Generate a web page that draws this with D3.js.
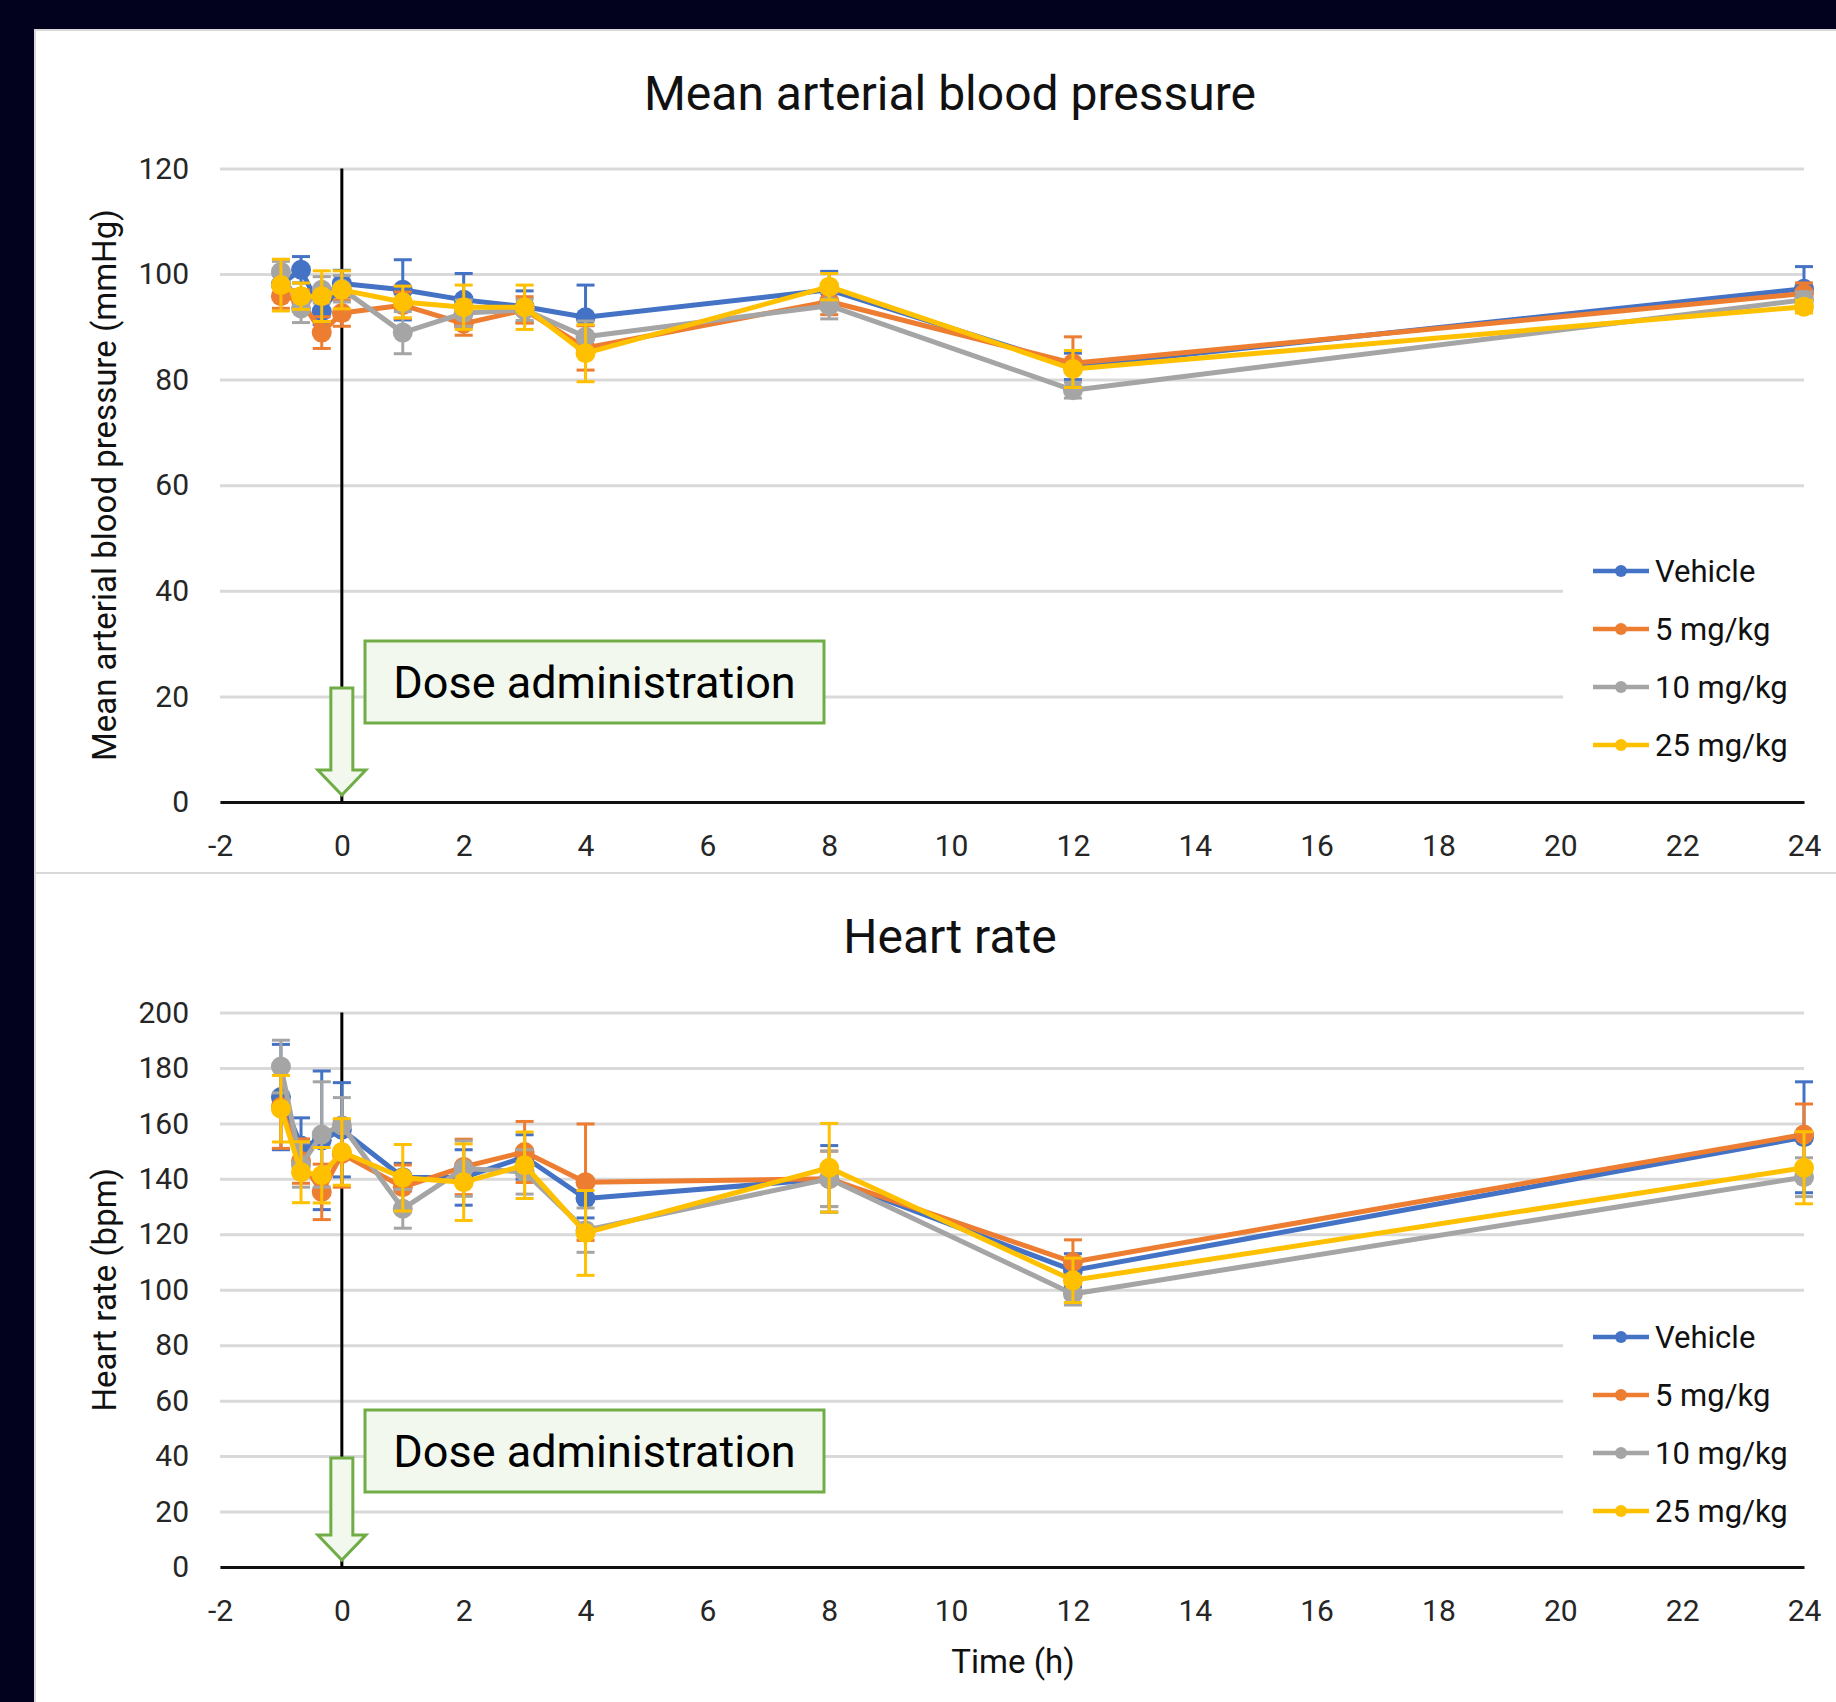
<!DOCTYPE html>
<html>
<head>
<meta charset="utf-8">
<script src="https://cdn.jsdelivr.net/npm/d3@7"></script>
<style>
  body { margin: 0; background: #02021f; }
  svg { display: block; }
  text { font-family: Roboto, "Liberation Sans", sans-serif; }
</style>
</head>
<body>
<svg></svg>
<script>
// time points (h)
const times = [-1, -0.67, -0.33, 0, 1, 2, 3, 4, 8, 12, 24];
const seriesNames = ['Vehicle', '5 mg/kg', '10 mg/kg', '25 mg/kg'];
const xTicks = [-2, 0, 2, 4, 6, 8, 10, 12, 14, 16, 18, 20, 22, 24];

// mean arterial blood pressure (mmHg), mean and error
const mapVehicle = [98, 100.8, 92.9, 98.2, 97, 95.1, 93.8, 91.8, 97, 82.5, 97.2];
const map5 = [95.8, 95, 88.9, 92.6, 94.1, 90.6, 93.2, 86, 94.8, 83.1, 96.3];
const map10 = [100.4, 93.5, 97, 97.2, 88.9, 92.6, 93.2, 88.1, 94, 78, 95.1];
const map25 = [97.9, 95.8, 95.8, 97, 94.7, 93.7, 93.7, 85, 97.6, 82, 93.8];
const mapVehicleErr = [2, 2.5, 2.5, 2.5, 5.7, 5, 3, 6.1, 3.5, 2.5, 4.2];
const map5Err = [2.3, 2, 3, 2.5, 2.5, 2.2, 2.5, 4.2, 2.5, 5, 2];
const map10Err = [2, 2.7, 2.5, 2.5, 4, 2.5, 2, 3, 2.5, 1.5, 1.5];
const map25Err = [4.9, 2.5, 4.8, 3.6, 3, 4.2, 4.2, 5.4, 2.5, 3.5, 1.2];
const mapTicks = [0, 20, 40, 60, 80, 100, 120];

// heart rate (bpm), mean and error
const hrVehicle = [169.5, 152, 153.9, 157.7, 140.6, 140.5, 147.9, 132.9, 140, 107, 155];
const hr5 = [166, 146.4, 135.3, 149, 137, 144.3, 149.7, 138.8, 140, 110, 156];
const hr10 = [180.5, 145, 156, 159.3, 129.2, 143.7, 142.5, 121.5, 140, 98.5, 140.6];
const hr25 = [165.3, 142.4, 141.3, 149.7, 140.4, 138.8, 144.9, 120.5, 144, 103.4, 144];
const hrVehicleErr = [19, 10, 25, 17, 5, 10, 8, 7, 12, 6, 20];
const hr5Err = [15, 8, 10, 12, 8, 10, 11, 21, 10, 8, 11];
const hr10Err = [9.5, 8, 19, 10, 7, 10, 8, 8, 10, 4, 7];
const hr25Err = [12, 11, 10, 12, 12, 13.8, 12, 15.3, 16, 8, 13];
const hrTicks = [0, 20, 40, 60, 80, 100, 120, 140, 160, 180, 200];

const colors = ['#4472c4', '#ed7d31', '#a5a5a5', '#ffc000'];

const W = 1836, H = 1702;
const svg = d3.select('svg').attr('width', W).attr('height', H);

svg.append('rect').attr('width', W).attr('height', H).attr('fill', '#02021f');
// two white panels
svg.append('rect').attr('x', 35).attr('y', 30).attr('width', W - 34).attr('height', 843)
   .attr('fill', '#fff').attr('stroke', '#d9d9d9').attr('stroke-width', 2);
svg.append('rect').attr('x', 35).attr('y', 873).attr('width', W - 34).attr('height', 840)
   .attr('fill', '#fff').attr('stroke', '#d9d9d9').attr('stroke-width', 2);

function drawChart(cfg) {
  const x = d3.scaleLinear().domain([-2, 24]).range([220, 1804]);
  const y = d3.scaleLinear().domain(cfg.yDomain).range(cfg.yRange);
  const g = svg.append('g');

  // gridlines
  g.append('g')
    .attr('transform', 'translate(220,0)')
    .call(d3.axisLeft(y).tickValues(cfg.yTicks).tickSize(-(1804 - 220)).tickFormat(''))
    .call(a => a.select('.domain').remove())
    .call(a => a.selectAll('line').attr('stroke', '#d9d9d9').attr('stroke-width', 3));

  // y tick labels
  g.append('g')
    .attr('transform', 'translate(220,0)')
    .call(d3.axisLeft(y).tickValues(cfg.yTicks).tickSize(0).tickPadding(31).tickFormat(d => String(d)))
    .call(a => a.select('.domain').remove())
    .call(a => a.selectAll('text').attr('font-size', 30).attr('fill', '#262626')
      .attr('font-family', 'Roboto'));

  // x axis
  g.append('g')
    .attr('transform', `translate(0,${y(0)})`)
    .call(d3.axisBottom(x).tickValues(xTicks).tickSize(0).tickPadding(33).tickFormat(d => String(d)))
    .call(a => a.select('.domain').attr('stroke', '#111').attr('stroke-width', 3))
    .call(a => a.selectAll('text').attr('font-size', 30).attr('fill', '#262626')
      .attr('font-family', 'Roboto'));

  // legend backdrop hides gridlines
  g.append('rect').attr('x', 1563).attr('y', cfg.legendY - 30)
    .attr('width', 260).attr('height', 235).attr('fill', '#fff');

  // dose line at t = 0
  g.append('line')
    .attr('x1', x(0)).attr('x2', x(0))
    .attr('y1', y(cfg.yDomain[1])).attr('y2', y(0))
    .attr('stroke', '#000').attr('stroke-width', 3);

  // series
  cfg.series.forEach((s, i) => {
    const pts = times.map((t, j) => ({ t: t, v: s.values[j], e: s.err[j] }));
    const sg = g.append('g');
    const eb = sg.selectAll('g.eb').data(pts).enter().append('g')
      .attr('stroke', colors[i]).attr('stroke-width', 3);
    eb.append('line')
      .attr('x1', d => x(d.t)).attr('x2', d => x(d.t))
      .attr('y1', d => y(d.v - d.e)).attr('y2', d => y(d.v + d.e));
    eb.append('line')
      .attr('x1', d => x(d.t) - 9).attr('x2', d => x(d.t) + 9)
      .attr('y1', d => y(d.v + d.e)).attr('y2', d => y(d.v + d.e));
    eb.append('line')
      .attr('x1', d => x(d.t) - 9).attr('x2', d => x(d.t) + 9)
      .attr('y1', d => y(d.v - d.e)).attr('y2', d => y(d.v - d.e));

    sg.append('path').datum(pts)
      .attr('fill', 'none').attr('stroke', colors[i]).attr('stroke-width', 5)
      .attr('stroke-linejoin', 'round')
      .attr('d', d3.line().x(d => x(d.t)).y(d => y(d.v)));

    sg.selectAll('circle').data(pts).enter().append('circle')
      .attr('cx', d => x(d.t)).attr('cy', d => y(d.v)).attr('r', 10)
      .attr('fill', colors[i]);

    // legend entry
    const ly = cfg.legendY + i * 58;
    g.append('line').attr('x1', 1593).attr('x2', 1649).attr('y1', ly).attr('y2', ly)
      .attr('stroke', colors[i]).attr('stroke-width', 4.5);
    g.append('circle').attr('cx', 1621).attr('cy', ly).attr('r', 6).attr('fill', colors[i]);
    g.append('text').attr('x', 1655).attr('y', ly).attr('dy', '0.36em')
      .attr('font-size', 31).attr('fill', '#111').text(seriesNames[i]);
  });

  // dose annotation box + arrow
  const x0 = x(0), y0 = y(0);
  g.append('rect').attr('x', 365).attr('y', y0 - cfg.boxOff)
    .attr('width', 459).attr('height', 82)
    .attr('fill', '#f2f8ee').attr('stroke', '#70ad47').attr('stroke-width', 3);
  g.append('text').attr('x', 365 + 459 / 2).attr('y', y0 - cfg.boxOff + 41).attr('dy', '0.35em')
    .attr('text-anchor', 'middle').attr('font-size', 45)
    .attr('font-family', '"Liberation Sans", Arial, sans-serif').attr('fill', '#000')
    .text('Dose administration');
  const top = y0 - cfg.arrowOff, tip = y0 - 7, head = y0 - 32;
  g.append('path')
    .attr('d', `M${x0 - 11},${top}H${x0 + 11}V${head}H${x0 + 24}L${x0},${tip}L${x0 - 24},${head}H${x0 - 11}Z`)
    .attr('fill', '#f2f8ee').attr('stroke', '#70ad47').attr('stroke-width', 3);

  // titles
  g.append('text').attr('x', 950).attr('y', cfg.titleY).attr('text-anchor', 'middle')
    .attr('font-size', 48).attr('fill', '#111').text(cfg.title);
  g.append('text')
    .attr('transform', `translate(116,${(cfg.yRange[0] + cfg.yRange[1]) / 2}) rotate(-90)`)
    .attr('text-anchor', 'middle').attr('font-size', 33).attr('fill', '#111')
    .text(cfg.yTitle);
  return { x, y };
}

drawChart({
  yDomain: [0, 120], yRange: [802, 168.4], yTicks: mapTicks,
  title: 'Mean arterial blood pressure', titleY: 110,
  yTitle: 'Mean arterial blood pressure (mmHg)',
  legendY: 571, boxOff: 161, arrowOff: 114,
  series: [
    { values: mapVehicle, err: mapVehicleErr },
    { values: map5, err: map5Err },
    { values: map10, err: map10Err },
    { values: map25, err: map25Err }
  ]
});

drawChart({
  yDomain: [0, 200], yRange: [1567, 1012.5], yTicks: hrTicks,
  title: 'Heart rate', titleY: 953,
  yTitle: 'Heart rate (bpm)',
  legendY: 1337, boxOff: 157, arrowOff: 109,
  series: [
    { values: hrVehicle, err: hrVehicleErr },
    { values: hr5, err: hr5Err },
    { values: hr10, err: hr10Err },
    { values: hr25, err: hr25Err }
  ]
});

svg.append('text').attr('x', 1013).attr('y', 1673).attr('text-anchor', 'middle')
  .attr('font-size', 33).attr('fill', '#111').text('Time (h)');
</script>
</body>
</html>
